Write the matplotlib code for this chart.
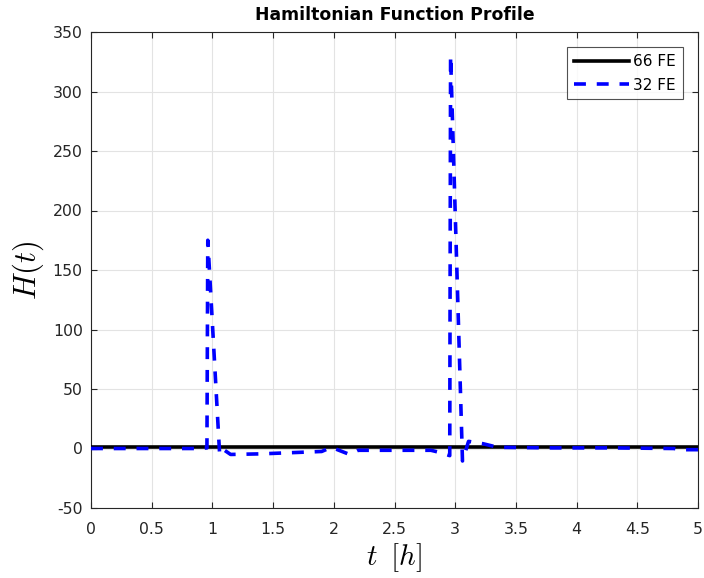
import matplotlib
matplotlib.use("Agg")
import matplotlib.pyplot as plt
import numpy as np

plt.rcParams['font.family'] = ['DejaVu Sans']
plt.rcParams['mathtext.fontset'] = 'cm'
plt.rcParams['axes.unicode_minus'] = False

# 66 FE profile (essentially constant)
t66 = [0.0, 5.0]
H66 = [1.5, 1.5]

# 32 FE profile
t32 = [0.0, 0.3, 0.6, 0.9, 0.955, 0.962, 1.06, 1.10, 1.15, 1.4, 1.65, 1.9, 1.98, 2.13, 2.2,
       2.5, 2.8, 2.88, 2.955, 2.962, 3.06, 3.11, 3.23, 3.35, 3.8, 4.3, 4.8, 4.87, 5.0]
H32 = [0.0, 0.0, 0.0, 0.0, 0.5, 175.0, -5.5, -1.5, -5.0, -4.5, -3.5, -2.5, 1.0, -5.0, -1.5,
       -1.5, -1.5, -3.5, -6.0, 330.0, -10.5, 6.0, 4.0, 1.0, 0.5, 0.5, 0.0, -1.0, -1.0]

fig = plt.figure(figsize=(7.04, 5.78), dpi=100)
ax = fig.add_axes([91/704, 1-508/578, (698-91)/704, (508-32)/578])

ax.plot(t66, H66, color='black', lw=2.6, label='66 FE', zorder=3)
ax.plot(t32, H32, color='blue', lw=2.6, ls=(0, (3.3, 3.0)), label='32 FE', zorder=4)

ax.set_xlim(0, 5)
ax.set_ylim(-50, 350)
ax.set_xticks(np.arange(0, 5.01, 0.5))
ax.set_xticklabels(['0', '0.5', '1', '1.5', '2', '2.5', '3', '3.5', '4', '4.5', '5'])
ax.set_yticks(np.arange(-50, 351, 50))
ax.grid(True, color='#e3e3e3', lw=0.8)
ax.set_axisbelow(True)
ax.tick_params(direction='in', length=4, labelsize=11.3, colors='#262626', top=True, right=True)
ax.tick_params(axis='x', pad=10)
ax.tick_params(axis='y', pad=6)
for s in ax.spines.values():
    s.set_color('#262626')
    s.set_linewidth(0.8)

ax.set_title('Hamiltonian Function Profile', fontsize=12.4, fontweight='bold', pad=8.5)
ax.set_xlabel(r'$t\;\;[h]$', fontsize=21, labelpad=3)
ax.set_ylabel(r'$H(t)$', fontsize=22, labelpad=5)

leg = ax.legend(loc='upper right', fontsize=11, frameon=True, fancybox=False,
                edgecolor='#262626', handlelength=3.6, handletextpad=0.3,
                borderaxespad=1.0, labelspacing=0.55, borderpad=0.45)
leg.get_frame().set_linewidth(0.8)

fig.savefig('out.png', dpi=100)
